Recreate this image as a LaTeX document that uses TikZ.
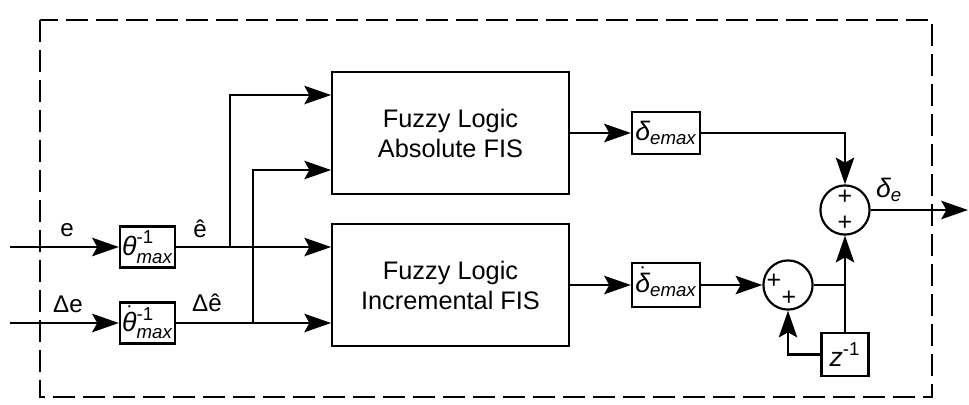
\documentclass[tikz,border=0pt]{standalone}
\usepackage{amsmath}
\usepackage{fontspec}
\setmainfont{Liberation Sans}
\usetikzlibrary{arrows.meta,positioning,calc}

\newcommand{\itx}[1]{\text{\itshape #1}}
\newcommand{\dotit}[1]{\smash{\dot{\itx{#1}}}\vphantom{\itx{#1}}}

\begin{document}
\begin{tikzpicture}[x=0.6pt, y=-0.6pt,
    blk/.style={draw, line width=1.3pt, inner sep=1pt,
                font=\fontsize{16}{19}\selectfont},
    fis/.style={draw, line width=1.3pt, minimum width=142pt, minimum height=73pt,
                align=center, font=\fontsize{15.2}{18}\selectfont},
    sumnode/.style={draw, circle, line width=1.3pt, minimum size=29.5pt, inner sep=0pt},
    sgn/.style={inner sep=0pt, font=\fontsize{15}{17}\selectfont},
    lbl/.style={inner sep=0pt, font=\fontsize{14.5}{17}\selectfont},
    wire/.style={line width=1.6pt},
    sig/.style={wire, -{Stealth[length=16pt, width=11pt, inset=3pt]}},
  ]
    \useasboundingbox (0,0) rectangle (969,404);
    % controller boundary
    \draw[line width=1.3pt, dash pattern=on 13pt off 5pt] (40,20) rectangle (932,397);

    % input normalisation gains
    \node[blk, minimum width=33pt, minimum height=24.6pt] (thinv) at (147.5,247)
      {\(\itx{θ}^{\text{-1}}_{\itx{max}}\)};
    \node[blk, minimum width=33pt, minimum height=24.6pt] (thdinv) at (147.5,323)
      {\(\dotit{θ}^{\text{-1}}_{\itx{max}}\)};

    % fuzzy inference systems
    \node[fis] (abs) at (450.5,133) {Fuzzy Logic\\Absolute FIS};
    \node[fis] (inc) at (450.5,285) {Fuzzy Logic\\Incremental FIS};

    % output gains
    \node[blk, minimum width=40.8pt, minimum height=25.2pt] (dmax) at (666,133)
      {\(\itx{δ}_{\itx{emax}}\)};
    \node[blk, minimum width=40.8pt, minimum height=26.4pt] (ddmax) at (666,285)
      {\(\dotit{δ}_{\itx{emax}}\)};

    % summing junctions and delay
    \node[sumnode] (sum1) at (845,210) {};
    \node[sgn] (p1a) at (845,197) {+};
    \node[sgn] (p1b) at (845,223) {+};
    \node[sumnode] (sum2) at (788,285) {};
    \node[sgn] (p2a) at (774,281) {+};
    \node[sgn] (p2b) at (789,298) {+};
    \node[blk, minimum width=28.2pt, minimum height=25.8pt] (zinv) at (845,354.5)
      {\(\itx{z}^{\text{-1}}\)};

    % signal labels
    \node[lbl] (le) at (67,230) {e};
    \node[lbl] (leh) at (200,229) {ê};
    \node[lbl] (lde) at (68,304) {Δe};
    \node[lbl] (ldeh) at (207,303) {Δê};
    \node[lbl, font=\fontsize{16}{19}\selectfont] (lout) at (889,190)
      {\(\itx{δ}_{\itx{e}}\)};

    % terminals and branch points
    \coordinate (in1) at (10,247);
    \coordinate (in2) at (10,323);
    \coordinate (eh) at (230,247);
    \coordinate (deh) at (253,323);
    \coordinate (fb) at (845,285);
    \coordinate (out) at (968,210);

    % wiring
    \draw[sig] (in1) -- (thinv.west);
    \draw[sig] (in2) -- (thdinv.west);
    \draw[sig] (thinv.east) -- ($(inc.west)+(0,-38)$);
    \draw[sig] (thdinv.east) -- ($(inc.west)+(0,38)$);
    \draw[sig] (eh) |- ($(abs.west)+(0,-38)$);
    \draw[sig] (deh) |- ($(abs.west)+(0,37)$);
    \draw[sig] (abs) -- (dmax);
    \draw[sig] (inc) -- (ddmax);
    \draw[sig] (dmax.east) -| (sum1.north);
    \draw[sig] (ddmax) -- (sum2);
    \draw[wire] (sum2.east) -- (fb);
    \draw[sig] (fb) -- (sum1.south);
    \draw[wire] (fb) -- (zinv.north);
    \draw[sig] (zinv.west) -| (sum2.south);
    \draw[sig] (sum1.east) -- (out);
\end{tikzpicture}
\end{document}
